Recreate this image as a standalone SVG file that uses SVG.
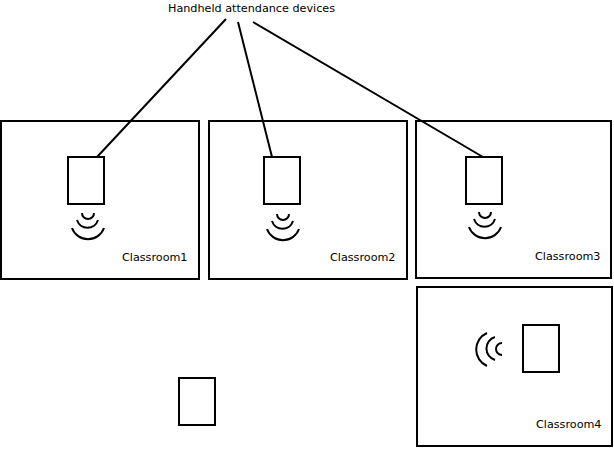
<svg xmlns="http://www.w3.org/2000/svg" width="614" height="450" viewBox="0 0 614 450">
<style>
.box{fill:#fff;stroke:#000;stroke-width:2}
.dev{fill:#fff;stroke:#000;stroke-width:2}
.wave{fill:none;stroke:#000;stroke-width:2}
.conn{fill:none;stroke:#000;stroke-width:2}
text{font-family:"DejaVu Sans","Liberation Sans",sans-serif;font-size:11.2px;fill:#000}
</style>
<defs>
<g id="waves">
<path class="wave" d="M-6 -1A6 6 0 0 0 6 -1"/>
<path class="wave" d="M-11 6A11 11 0 0 0 10 6"/>
<path class="wave" d="M-16 14A17 17 0 0 0 16 14"/>
</g>
<g id="wavesL">
<path class="wave" d="M0 -6A6 6 0 0 0 0 6"/>
<path class="wave" d="M-7 -12A12 12 0 0 0 -7 11"/>
<path class="wave" d="M-15 -16A18 18 0 0 0 -15 17"/>
</g>
</defs>
<rect width="614" height="450" fill="#fff"/>
<g id="room1"><rect class="box" x="1" y="121" width="198" height="158"/><text x="122" y="261">Classroom1</text></g>
<g id="room2"><rect class="box" x="209" y="121" width="198" height="158"/><text x="330" y="261">Classroom2</text></g>
<g id="room3"><rect class="box" x="416" y="121" width="195" height="157"/><text x="535" y="260">Classroom3</text></g>
<g id="room4"><rect class="box" x="417" y="287" width="195" height="159"/><text x="536" y="428">Classroom4</text></g>
<g id="connectors">
<path class="conn" d="M226 19L97 157M238 22L272 157M253 22L483 157"/>
</g>
<g id="device1"><rect class="dev" x="68" y="157" width="36" height="47"/><use href="#waves" x="88" y="214"/></g>
<g id="device2"><rect class="dev" x="264" y="157" width="36" height="47"/><use href="#waves" x="283" y="215"/></g>
<g id="device3"><rect class="dev" x="466" y="157" width="36" height="47"/><use href="#waves" x="485" y="213"/></g>
<g id="device4"><rect class="dev" x="523" y="325" width="36" height="47"/><use href="#wavesL" x="502" y="349"/></g>
<g id="device5"><rect class="dev" x="179" y="378" width="36" height="47"/></g>
<g id="title"><text x="168" y="12">Handheld attendance devices</text></g>
</svg>
